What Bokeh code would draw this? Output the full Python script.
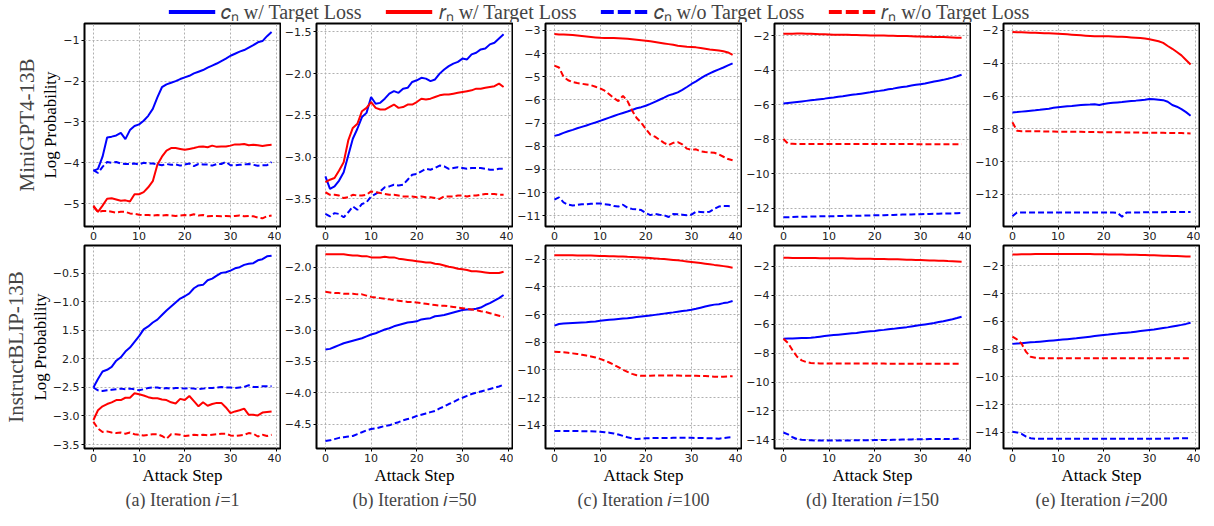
from bokeh.plotting import figure
from bokeh.models import Range1d, FixedTicker, Title, Legend, LegendItem
from bokeh.layouts import column, row
from bokeh.embed import file_html
from bokeh.resources import INLINE

steps = list(range(40))

# ---------------- Row 1: MiniGPT4-13B ----------------
r1a_cn_w = [-4.2, -4.15, -3.85, -3.38, -3.36, -3.33, -3.27, -3.42, -3.2, -3.1, -3.06, -2.97, -2.85, -2.68, -2.4, -2.15, -2.08, -2.04, -2.0, -1.95,
            -1.91, -1.87, -1.81, -1.77, -1.73, -1.67, -1.62, -1.57, -1.51, -1.45, -1.38, -1.33, -1.28, -1.24, -1.18, -1.12, -1.05, -1.02, -0.9, -0.8]
r1a_rn_w = [-5.05, -5.2, -5.05, -4.88, -4.87, -4.9, -4.93, -4.92, -4.95, -4.77, -4.77, -4.72, -4.6, -4.45, -4.05, -3.85, -3.7, -3.64, -3.64, -3.66,
            -3.68, -3.66, -3.64, -3.61, -3.6, -3.62, -3.58, -3.61, -3.6, -3.6, -3.58, -3.55, -3.55, -3.54, -3.57, -3.56, -3.57, -3.59, -3.57, -3.56]
r1a_cn_wo = [-4.18, -4.25, -4.1, -3.98, -4.0, -3.98, -4.02, -4.03, -4.03, -4.02, -4.04, -4.0, -4.02, -4.02, -4.04, -4.06, -4.03, -4.05, -4.04, -4.07,
             -4.04, -4.02, -4.08, -4.03, -4.04, -4.04, -4.07, -4.03, -4.03, -3.98, -4.06, -4.06, -4.05, -4.04, -4.03, -4.05, -4.07, -4.06, -4.06, -3.98]
r1a_rn_wo = [-5.08, -5.2, -5.18, -5.18, -5.2, -5.22, -5.2, -5.2, -5.24, -5.25, -5.27, -5.28, -5.28, -5.29, -5.28, -5.29, -5.28, -5.29, -5.3, -5.29,
             -5.28, -5.29, -5.26, -5.29, -5.28, -5.31, -5.3, -5.3, -5.31, -5.3, -5.31, -5.3, -5.29, -5.31, -5.3, -5.31, -5.34, -5.36, -5.31, -5.29]

r1b_cn_w = [-3.23, -3.38, -3.35, -3.28, -3.18, -2.98, -2.78, -2.66, -2.52, -2.47, -2.28, -2.36, -2.35, -2.3, -2.24, -2.21, -2.23, -2.18, -2.17, -2.1,
            -2.08, -2.05, -2.06, -2.09, -2.07, -2.0, -1.95, -1.91, -1.88, -1.86, -1.82, -1.83, -1.77, -1.75, -1.71, -1.7, -1.65, -1.63, -1.58, -1.53]
r1b_rn_w = [-3.3, -3.27, -3.25, -3.16, -3.06, -2.8, -2.65, -2.6, -2.45, -2.41, -2.34, -2.41, -2.43, -2.43, -2.4, -2.37, -2.41, -2.4, -2.37, -2.37,
            -2.34, -2.3, -2.31, -2.3, -2.28, -2.26, -2.25, -2.25, -2.24, -2.23, -2.22, -2.21, -2.2, -2.18, -2.18, -2.17, -2.16, -2.15, -2.12, -2.16]
r1b_cn_wo = [-3.68, -3.71, -3.67, -3.68, -3.72, -3.66, -3.59, -3.63, -3.56, -3.54, -3.47, -3.44, -3.41, -3.36, -3.35, -3.33, -3.34, -3.33, -3.27, -3.21,
             -3.2, -3.17, -3.14, -3.15, -3.13, -3.1, -3.11, -3.14, -3.13, -3.12, -3.13, -3.14, -3.13, -3.13, -3.13, -3.14, -3.15, -3.15, -3.14, -3.14]
r1b_rn_wo = [-3.42, -3.45, -3.45, -3.46, -3.49, -3.48, -3.45, -3.46, -3.46, -3.45, -3.41, -3.42, -3.43, -3.44, -3.45, -3.45, -3.46, -3.47, -3.47, -3.47,
             -3.48, -3.47, -3.48, -3.48, -3.49, -3.5, -3.47, -3.47, -3.47, -3.46, -3.46, -3.47, -3.46, -3.46, -3.45, -3.44, -3.44, -3.44, -3.45, -3.45]

r1c_cn_w = [-7.55, -7.5, -7.42, -7.35, -7.29, -7.22, -7.16, -7.1, -7.03, -6.97, -6.9, -6.83, -6.76, -6.69, -6.62, -6.56, -6.5, -6.43, -6.36, -6.31,
            -6.25, -6.17, -6.08, -5.99, -5.9, -5.8, -5.74, -5.67, -5.56, -5.44, -5.31, -5.2, -5.07, -4.95, -4.85, -4.76, -4.68, -4.6, -4.51, -4.42]
r1c_rn_w = [-3.15, -3.17, -3.18, -3.19, -3.2, -3.22, -3.24, -3.26, -3.28, -3.3, -3.32, -3.33, -3.33, -3.33, -3.34, -3.35, -3.36, -3.38, -3.4, -3.42,
            -3.44, -3.47, -3.5, -3.53, -3.56, -3.59, -3.62, -3.66, -3.68, -3.7, -3.71, -3.73, -3.76, -3.79, -3.82, -3.84, -3.87, -3.9, -3.95, -4.05]
r1c_cn_wo = [-10.3, -10.2, -10.42, -10.52, -10.55, -10.53, -10.5, -10.5, -10.48, -10.47, -10.47, -10.5, -10.52, -10.58, -10.6, -10.52, -10.65, -10.7, -10.72, -10.75,
             -10.88, -10.97, -10.92, -10.95, -10.97, -11.05, -10.92, -10.93, -10.95, -10.97, -10.95, -10.82, -10.83, -10.85, -10.82, -10.7, -10.6, -10.57, -10.58, -10.6]
r1c_rn_wo = [-4.52, -4.6, -5.0, -5.15, -5.23, -5.27, -5.3, -5.33, -5.36, -5.43, -5.5, -5.6, -5.75, -5.92, -6.05, -5.82, -6.05, -6.45, -6.78, -6.98,
             -7.25, -7.5, -7.58, -7.72, -7.85, -7.95, -7.85, -7.82, -7.92, -8.1, -8.15, -8.13, -8.22, -8.25, -8.26, -8.28, -8.35, -8.45, -8.55, -8.6]

r1d_cn_w = [-5.92, -5.89, -5.86, -5.83, -5.8, -5.77, -5.74, -5.71, -5.67, -5.64, -5.6, -5.57, -5.53, -5.5, -5.46, -5.42, -5.39, -5.35, -5.31, -5.27,
            -5.22, -5.19, -5.15, -5.1, -5.06, -5.01, -4.97, -4.93, -4.88, -4.84, -4.8, -4.76, -4.7, -4.65, -4.6, -4.55, -4.49, -4.42, -4.34, -4.25]
r1d_rn_w = [-1.87, -1.87, -1.87, -1.86, -1.86, -1.87, -1.88, -1.89, -1.9, -1.91, -1.92, -1.93, -1.93, -1.94, -1.94, -1.95, -1.95, -1.96, -1.96, -1.97,
            -1.97, -1.98, -1.98, -1.99, -1.99, -2.0, -2.0, -2.01, -2.02, -2.03, -2.04, -2.05, -2.05, -2.06, -2.07, -2.07, -2.08, -2.09, -2.1, -2.1]
r1d_cn_wo = [-12.53, -12.52, -12.51, -12.5, -12.49, -12.49, -12.48, -12.48, -12.47, -12.47, -12.46, -12.46, -12.45, -12.45, -12.44, -12.44, -12.43, -12.43, -12.42, -12.42,
             -12.41, -12.41, -12.4, -12.39, -12.39, -12.38, -12.37, -12.37, -12.36, -12.35, -12.35, -12.34, -12.33, -12.32, -12.32, -12.31, -12.3, -12.3, -12.29, -12.28]
r1d_rn_wo = [-7.98, -8.25, -8.26, -8.27, -8.27, -8.27, -8.27, -8.27, -8.27, -8.27, -8.27, -8.27, -8.27, -8.27, -8.27, -8.27, -8.27, -8.27, -8.27, -8.27,
             -8.27, -8.27, -8.27, -8.27, -8.27, -8.27, -8.27, -8.27, -8.27, -8.28, -8.28, -8.28, -8.28, -8.28, -8.28, -8.29, -8.29, -8.29, -8.29, -8.29]

r1e_cn_w = [-7.0, -6.98, -6.95, -6.92, -6.89, -6.87, -6.84, -6.8, -6.77, -6.72, -6.68, -6.65, -6.62, -6.6, -6.57, -6.55, -6.53, -6.52, -6.5, -6.55,
            -6.48, -6.44, -6.41, -6.39, -6.37, -6.33, -6.3, -6.28, -6.25, -6.22, -6.18, -6.2, -6.22, -6.25, -6.35, -6.55, -6.65, -6.8, -6.98, -7.2]
r1e_rn_w = [-2.1, -2.11, -2.12, -2.13, -2.14, -2.15, -2.16, -2.17, -2.18, -2.19, -2.2, -2.22, -2.24, -2.26, -2.28, -2.3, -2.32, -2.34, -2.36, -2.35,
            -2.35, -2.36, -2.37, -2.38, -2.39, -2.41, -2.43, -2.45, -2.47, -2.5, -2.54, -2.6, -2.66, -2.76, -2.95, -3.12, -3.32, -3.52, -3.8, -4.08]
r1e_cn_wo = [-13.33, -13.1, -13.1, -13.1, -13.1, -13.1, -13.1, -13.1, -13.1, -13.1, -13.1, -13.1, -13.1, -13.1, -13.1, -13.1, -13.1, -13.1, -13.1, -13.1,
             -13.1, -13.1, -13.1, -13.12, -13.35, -13.1, -13.09, -13.09, -13.09, -13.08, -13.08, -13.08, -13.08, -13.08, -13.07, -13.07, -13.07, -13.07, -13.06, -13.06]
r1e_rn_wo = [-7.6, -8.12, -8.14, -8.14, -8.15, -8.15, -8.15, -8.16, -8.16, -8.16, -8.17, -8.17, -8.17, -8.18, -8.18, -8.18, -8.19, -8.19, -8.19, -8.2,
             -8.2, -8.2, -8.21, -8.21, -8.21, -8.22, -8.22, -8.22, -8.23, -8.23, -8.23, -8.24, -8.24, -8.24, -8.25, -8.25, -8.26, -8.26, -8.27, -8.28]

# ---------------- Row 2: InstructBLIP-13B ----------------
r2a_cn_w = [-2.5, -2.35, -2.22, -2.19, -2.14, -2.03, -1.97, -1.87, -1.8, -1.7, -1.6, -1.48, -1.43, -1.36, -1.31, -1.23, -1.15, -1.08, -1.01, -0.94,
            -0.9, -0.85, -0.76, -0.71, -0.7, -0.62, -0.59, -0.54, -0.49, -0.48, -0.45, -0.41, -0.39, -0.35, -0.33, -0.32, -0.27, -0.25, -0.2, -0.19]
r2a_rn_w = [-3.07, -2.9, -2.83, -2.79, -2.76, -2.72, -2.72, -2.68, -2.68, -2.6, -2.62, -2.64, -2.67, -2.69, -2.69, -2.71, -2.72, -2.76, -2.78, -2.7,
            -2.72, -2.65, -2.74, -2.83, -2.76, -2.82, -2.79, -2.77, -2.77, -2.85, -2.95, -2.92, -2.9, -2.87, -2.98, -2.98, -2.99, -2.94, -2.93, -2.92]
r2a_cn_wo = [-2.5, -2.55, -2.56, -2.55, -2.54, -2.53, -2.52, -2.53, -2.52, -2.53, -2.55, -2.53, -2.51, -2.5, -2.5, -2.52, -2.51, -2.52, -2.51, -2.51,
             -2.52, -2.51, -2.52, -2.53, -2.52, -2.51, -2.51, -2.5, -2.49, -2.5, -2.5, -2.51, -2.5, -2.49, -2.46, -2.49, -2.49, -2.48, -2.48, -2.48]
r2a_rn_wo = [-3.1, -3.22, -3.28, -3.27, -3.29, -3.3, -3.29, -3.31, -3.29, -3.32, -3.33, -3.34, -3.33, -3.32, -3.32, -3.35, -3.4, -3.32, -3.32, -3.33,
             -3.35, -3.34, -3.33, -3.34, -3.33, -3.34, -3.33, -3.32, -3.31, -3.31, -3.34, -3.35, -3.34, -3.33, -3.3, -3.31, -3.36, -3.33, -3.35, -3.33]

r2b_cn_w = [-3.31, -3.3, -3.27, -3.24, -3.21, -3.19, -3.17, -3.15, -3.13, -3.1, -3.07, -3.05, -3.02, -2.99, -2.97, -2.94, -2.92, -2.9, -2.88, -2.87,
            -2.86, -2.83, -2.82, -2.81, -2.78, -2.77, -2.76, -2.74, -2.72, -2.7, -2.68, -2.67, -2.67, -2.66, -2.64, -2.6, -2.57, -2.53, -2.49, -2.44]
r2b_rn_w = [-1.79, -1.79, -1.79, -1.79, -1.79, -1.8, -1.81, -1.81, -1.82, -1.82, -1.84, -1.84, -1.84, -1.83, -1.84, -1.84, -1.86, -1.87, -1.88, -1.89,
            -1.9, -1.91, -1.92, -1.92, -1.94, -1.95, -1.97, -1.99, -2.0, -2.02, -2.03, -2.04, -2.06, -2.06, -2.07, -2.08, -2.09, -2.09, -2.09, -2.07]
r2b_cn_wo = [-4.77, -4.76, -4.74, -4.72, -4.71, -4.7, -4.69, -4.66, -4.63, -4.6, -4.58, -4.57, -4.55, -4.53, -4.52, -4.49, -4.47, -4.44, -4.42, -4.4,
             -4.37, -4.35, -4.33, -4.31, -4.29, -4.25, -4.22, -4.18, -4.15, -4.11, -4.08, -4.05, -4.02, -4.0, -3.98, -3.96, -3.94, -3.92, -3.9, -3.87]
r2b_rn_wo = [-2.39, -2.4, -2.41, -2.41, -2.42, -2.42, -2.42, -2.43, -2.43, -2.45, -2.47, -2.48, -2.49, -2.5, -2.51, -2.52, -2.53, -2.54, -2.55, -2.55,
             -2.56, -2.57, -2.58, -2.59, -2.6, -2.61, -2.61, -2.62, -2.63, -2.64, -2.65, -2.66, -2.67, -2.68, -2.7, -2.71, -2.73, -2.75, -2.77, -2.79]

r2c_cn_w = [-6.8, -6.68, -6.65, -6.63, -6.61, -6.59, -6.57, -6.55, -6.52, -6.49, -6.45, -6.41, -6.38, -6.35, -6.32, -6.29, -6.26, -6.22, -6.18, -6.14,
            -6.1, -6.06, -6.02, -5.98, -5.93, -5.88, -5.84, -5.79, -5.74, -5.7, -5.65, -5.58, -5.5, -5.42, -5.35, -5.28, -5.25, -5.17, -5.12, -5.02]
r2c_rn_w = [-1.72, -1.72, -1.72, -1.72, -1.72, -1.73, -1.73, -1.74, -1.74, -1.75, -1.76, -1.77, -1.78, -1.79, -1.8, -1.81, -1.83, -1.84, -1.86, -1.88,
            -1.9, -1.92, -1.94, -1.97, -1.99, -2.02, -2.05, -2.08, -2.12, -2.16, -2.2, -2.24, -2.28, -2.32, -2.36, -2.41, -2.45, -2.5, -2.55, -2.61]
r2c_cn_wo = [-14.4, -14.4, -14.4, -14.4, -14.41, -14.41, -14.42, -14.42, -14.43, -14.44, -14.46, -14.49, -14.53, -14.58, -14.66, -14.76, -14.86, -14.94, -14.98, -14.96,
             -14.93, -14.92, -14.92, -14.91, -14.91, -14.91, -14.9, -14.9, -14.9, -14.9, -14.9, -14.91, -14.91, -14.92, -14.93, -14.94, -14.96, -14.92, -14.88, -14.85]
r2c_rn_wo = [-8.68, -8.7, -8.72, -8.76, -8.8, -8.84, -8.9, -8.96, -9.02, -9.1, -9.2, -9.32, -9.46, -9.62, -9.8, -9.98, -10.14, -10.28, -10.38, -10.42,
             -10.42, -10.41, -10.4, -10.4, -10.39, -10.39, -10.4, -10.4, -10.41, -10.42, -10.42, -10.42, -10.43, -10.44, -10.46, -10.48, -10.5, -10.48, -10.46, -10.45]

r2d_cn_w = [-7.0, -6.99, -6.98, -6.97, -6.96, -6.95, -6.93, -6.9, -6.86, -6.82, -6.78, -6.75, -6.72, -6.69, -6.66, -6.63, -6.6, -6.56, -6.52, -6.49,
            -6.46, -6.42, -6.39, -6.35, -6.32, -6.28, -6.24, -6.2, -6.15, -6.1, -6.06, -6.01, -5.96, -5.91, -5.85, -5.79, -5.72, -5.65, -5.57, -5.48]
r2d_rn_w = [-1.4, -1.4, -1.41, -1.41, -1.41, -1.42, -1.42, -1.42, -1.43, -1.43, -1.43, -1.44, -1.44, -1.44, -1.45, -1.45, -1.46, -1.46, -1.47, -1.47,
            -1.48, -1.48, -1.49, -1.5, -1.5, -1.51, -1.52, -1.53, -1.54, -1.55, -1.56, -1.57, -1.58, -1.59, -1.6, -1.61, -1.63, -1.64, -1.66, -1.68]
r2d_cn_wo = [-13.49, -13.62, -13.82, -13.95, -14.0, -14.02, -14.03, -14.04, -14.05, -14.05, -14.05, -14.05, -14.04, -14.04, -14.04, -14.04, -14.03, -14.03, -14.03, -14.03,
             -14.02, -14.02, -14.02, -14.01, -14.0, -13.99, -13.98, -13.97, -13.97, -13.96, -13.96, -13.96, -13.95, -13.95, -13.95, -13.94, -13.94, -13.94, -13.93, -13.93]
r2d_rn_wo = [-7.0, -7.3, -7.8, -8.25, -8.5, -8.62, -8.68, -8.7, -8.71, -8.71, -8.72, -8.72, -8.72, -8.72, -8.72, -8.72, -8.72, -8.72, -8.72, -8.72,
             -8.72, -8.72, -8.72, -8.73, -8.73, -8.73, -8.73, -8.73, -8.73, -8.73, -8.73, -8.74, -8.74, -8.74, -8.74, -8.74, -8.74, -8.74, -8.74, -8.74]

r2e_cn_w = [-7.62, -7.59, -7.57, -7.54, -7.51, -7.49, -7.46, -7.43, -7.4, -7.37, -7.34, -7.31, -7.28, -7.25, -7.22, -7.18, -7.14, -7.1, -7.06, -7.02,
            -6.98, -6.95, -6.91, -6.88, -6.84, -6.81, -6.78, -6.74, -6.7, -6.66, -6.62, -6.58, -6.53, -6.48, -6.43, -6.37, -6.31, -6.25, -6.18, -6.1]
r2e_rn_w = [-1.17, -1.17, -1.16, -1.16, -1.16, -1.15, -1.15, -1.15, -1.15, -1.15, -1.15, -1.15, -1.15, -1.15, -1.15, -1.15, -1.15, -1.15, -1.16, -1.16,
            -1.16, -1.17, -1.17, -1.18, -1.18, -1.19, -1.19, -1.2, -1.21, -1.22, -1.23, -1.24, -1.25, -1.26, -1.27, -1.28, -1.29, -1.3, -1.32, -1.33]
r2e_cn_wo = [-13.95, -14.0, -14.1, -14.3, -14.42, -14.45, -14.46, -14.46, -14.46, -14.46, -14.46, -14.46, -14.46, -14.46, -14.46, -14.46, -14.46, -14.46, -14.46, -14.46,
             -14.46, -14.46, -14.46, -14.46, -14.46, -14.46, -14.46, -14.46, -14.46, -14.46, -14.45, -14.45, -14.45, -14.45, -14.44, -14.44, -14.43, -14.43, -14.42, -14.42]
r2e_rn_wo = [-7.1, -7.3, -7.6, -8.2, -8.55, -8.62, -8.65, -8.66, -8.66, -8.66, -8.66, -8.66, -8.66, -8.66, -8.66, -8.66, -8.66, -8.66, -8.66, -8.66,
             -8.66, -8.66, -8.66, -8.66, -8.66, -8.66, -8.66, -8.66, -8.66, -8.66, -8.66, -8.66, -8.66, -8.66, -8.66, -8.66, -8.66, -8.66, -8.66, -8.66]

# ---------------- axes / labels ----------------
x_ticks = [0, 10, 20, 30, 40]
x_tick_labels = ["0", "10", "20", "30", "40"]

r1a_yticks = [-5, -4, -3, -2, -1]
r1a_ylabels = ["\u22125", "\u22124", "\u22123", "\u22122", "\u22121"]
r1b_yticks = [-3.5, -3.0, -2.5, -2.0, -1.5]
r1b_ylabels = ["\u22123.5", "\u22123.0", "\u22122.5", "\u22122.0", "\u22121.5"]
r1c_yticks = [-11, -10, -9, -8, -7, -6, -5, -4, -3]
r1c_ylabels = ["\u221211", "\u221210", "\u22129", "\u22128", "\u22127", "\u22126", "\u22125", "\u22124", "\u22123"]
r1d_yticks = [-12, -10, -8, -6, -4, -2]
r1d_ylabels = ["\u221212", "\u221210", "\u22128", "\u22126", "\u22124", "\u22122"]
r1e_yticks = [-12, -10, -8, -6, -4, -2]
r1e_ylabels = ["\u221212", "\u221210", "\u22128", "\u22126", "\u22124", "\u22122"]
r2a_yticks = [-3.5, -3.0, -2.5, -2.0, -1.5, -1.0, -0.5]
r2a_ylabels = ["\u22123.5", "\u22123.0", "\u22122.5", "2.0", "1.5", "\u22121.0", "\u22120.5"]
r2b_yticks = [-4.5, -4.0, -3.5, -3.0, -2.5, -2.0]
r2b_ylabels = ["\u22124.5", "\u22124.0", "\u22123.5", "\u22123.0", "\u22122.5", "\u22122.0"]
r2c_yticks = [-14, -12, -10, -8, -6, -4, -2]
r2c_ylabels = ["\u221214", "\u221212", "\u221210", "\u22128", "\u22126", "\u22124", "\u22122"]
r2d_yticks = [-14, -12, -10, -8, -6, -4, -2]
r2d_ylabels = ["\u221214", "\u221212", "\u221210", "\u22128", "\u22126", "\u22124", "\u22122"]
r2e_yticks = [-14, -12, -10, -8, -6, -4, -2]
r2e_ylabels = ["\u221214", "\u221212", "\u221210", "\u22128", "\u22126", "\u22124", "\u22122"]

row_names = ["MiniGPT4-13B", "InstructBLIP-13B"]
y_label = "Log Probability"
x_label = "Attack Step"
captions = ["(a) Iteration \U0001D456=1", "(b) Iteration \U0001D456=50", "(c) Iteration \U0001D456=100",
            "(d) Iteration \U0001D456=150", "(e) Iteration \U0001D456=200"]
series_labels = ["\U0001D450\u2099 w/ Target Loss", "\U0001D45F\u2099 w/ Target Loss",
                 "\U0001D450\u2099 w/o Target Loss", "\U0001D45F\u2099 w/o Target Loss"]

BLUE = "#0000ff"
RED = "#ff0000"
SERIF = "Liberation Serif"
FW, FH = 196, 203


def panel(data, yr, yt, ytl, left, bottom, ylabel=None, rowname=None, xlabel=None, caption=None):
    p = figure(frame_width=FW, frame_height=FH, x_range=Range1d(-1.95, 40.95), y_range=Range1d(*yr),
               output_backend="svg", toolbar_location=None,
               min_border_left=left, min_border_right=1, min_border_top=1, min_border_bottom=bottom)
    p.background_fill_color = "white"
    p.outline_line_color = "black"
    p.outline_line_width = 2
    p.xaxis.ticker = FixedTicker(ticks=x_ticks)
    p.xaxis.major_label_overrides = dict(zip(x_ticks, x_tick_labels))
    p.yaxis.ticker = FixedTicker(ticks=yt)
    p.yaxis.major_label_overrides = dict(zip(yt, ytl))
    for ax in (p.xaxis[0], p.yaxis[0]):
        ax.axis_line_color = None
        ax.major_tick_out = 3
        ax.major_tick_in = 0
        ax.major_tick_line_color = "black"
        ax.minor_tick_line_color = None
        ax.major_label_text_font = "DejaVu Sans"
        ax.major_label_text_font_size = "11px"
        ax.major_label_text_color = "#222222"
        ax.major_label_standoff = 2
    p.grid.grid_line_color = "#b0b0b0"
    p.grid.grid_line_dash = "2 2"
    p.grid.grid_line_width = 1
    cn_w, rn_w, cn_wo, rn_wo = data
    p.line(steps, cn_w, line_color=BLUE, line_width=2)
    p.line(steps, rn_w, line_color=RED, line_width=2)
    p.line(steps, cn_wo, line_color=BLUE, line_width=2, line_dash="6 3")
    p.line(steps, rn_wo, line_color=RED, line_width=2, line_dash="6 3")
    if ylabel:
        p.yaxis.axis_label = ylabel
        p.yaxis.axis_label_text_font = SERIF
        p.yaxis.axis_label_text_font_size = "17px"
        p.yaxis.axis_label_text_font_style = "normal"
        p.yaxis.axis_label_text_color = "black"
        p.yaxis.axis_label_standoff = 0
    if rowname:
        p.add_layout(Title(text=rowname, text_font=SERIF, text_font_size="21px", text_font_style="normal",
                           align="center", standoff=0, offset=0), "left")
    if xlabel:
        p.xaxis.axis_label = xlabel
        p.xaxis.axis_label_text_font = SERIF
        p.xaxis.axis_label_text_font_size = "17px"
        p.xaxis.axis_label_text_font_style = "normal"
        p.xaxis.axis_label_text_color = "black"
        p.xaxis.axis_label_standoff = 1
    if caption:
        p.add_layout(Title(text=caption, text_font=SERIF, text_font_size="18px", text_font_style="normal",
                           align="center", standoff=0), "below")
    return p


row1_data = [(r1a_cn_w, r1a_rn_w, r1a_cn_wo, r1a_rn_wo), (r1b_cn_w, r1b_rn_w, r1b_cn_wo, r1b_rn_wo),
             (r1c_cn_w, r1c_rn_w, r1c_cn_wo, r1c_rn_wo), (r1d_cn_w, r1d_rn_w, r1d_cn_wo, r1d_rn_wo),
             (r1e_cn_w, r1e_rn_w, r1e_cn_wo, r1e_rn_wo)]
row2_data = [(r2a_cn_w, r2a_rn_w, r2a_cn_wo, r2a_rn_wo), (r2b_cn_w, r2b_rn_w, r2b_cn_wo, r2b_rn_wo),
             (r2c_cn_w, r2c_rn_w, r2c_cn_wo, r2c_rn_wo), (r2d_cn_w, r2d_rn_w, r2d_cn_wo, r2d_rn_wo),
             (r2e_cn_w, r2e_rn_w, r2e_cn_wo, r2e_rn_wo)]
row1_ranges = [(-5.56, -0.59), (-3.83, -1.40), (-11.46, -2.70), (-13.06, -1.28), (-13.95, -1.58)]
row2_ranges = [(-3.57, -0.01), (-4.89, -1.65), (-15.67, -1.01), (-14.6, -0.55), (-15.16, -0.53)]
row1_ticks = [(r1a_yticks, r1a_ylabels), (r1b_yticks, r1b_ylabels), (r1c_yticks, r1c_ylabels),
              (r1d_yticks, r1d_ylabels), (r1e_yticks, r1e_ylabels)]
row2_ticks = [(r2a_yticks, r2a_ylabels), (r2b_yticks, r2b_ylabels), (r2c_yticks, r2c_ylabels),
              (r2d_yticks, r2d_ylabels), (r2e_yticks, r2e_ylabels)]

LEFT_A, LEFT = 84, 32
row1 = []
row2 = []
for i in range(5):
    first = i == 0
    row1.append(panel(row1_data[i], row1_ranges[i], row1_ticks[i][0], row1_ticks[i][1],
                      LEFT_A if first else LEFT, 18,
                      ylabel=y_label if first else None,
                      rowname=row_names[0] if first else None))
    row2.append(panel(row2_data[i], row2_ranges[i], row2_ticks[i][0], row2_ticks[i][1],
                      LEFT_A if first else LEFT, 52,
                      ylabel=y_label if first else None,
                      rowname=row_names[1] if first else None,
                      xlabel=x_label, caption=captions[i]))

total_w = (LEFT_A + FW + 1) + 4 * (LEFT + FW + 1)
nan = float("nan")
leg = figure(width=total_w, height=22, x_range=Range1d(0, 1), y_range=Range1d(0, 1),
             x_axis_type=None, y_axis_type=None, output_backend="svg", toolbar_location=None,
             min_border=0)
leg.outline_line_color = None
r_a = leg.line([nan], [nan], line_color=BLUE, line_width=4)
r_b = leg.line([nan], [nan], line_color=RED, line_width=4)
r_c = leg.line([nan], [nan], line_color=BLUE, line_width=4, line_dash="13 4")
r_d = leg.line([nan], [nan], line_color=RED, line_width=4, line_dash="13 4")
legend = Legend(items=[LegendItem(label=series_labels[k], renderers=[r]) for k, r in enumerate([r_a, r_b, r_c, r_d])],
                orientation="horizontal", location="center", border_line_color=None,
                background_fill_alpha=0, label_text_font=SERIF, label_text_font_size="20px",
                glyph_width=47, glyph_height=16, spacing=24, label_standoff=6, padding=0, margin=0)
leg.add_layout(legend, "center")

layout = column(leg, row(*row1), row(*row2))
open("out.html", "w").write(file_html(layout, INLINE))
